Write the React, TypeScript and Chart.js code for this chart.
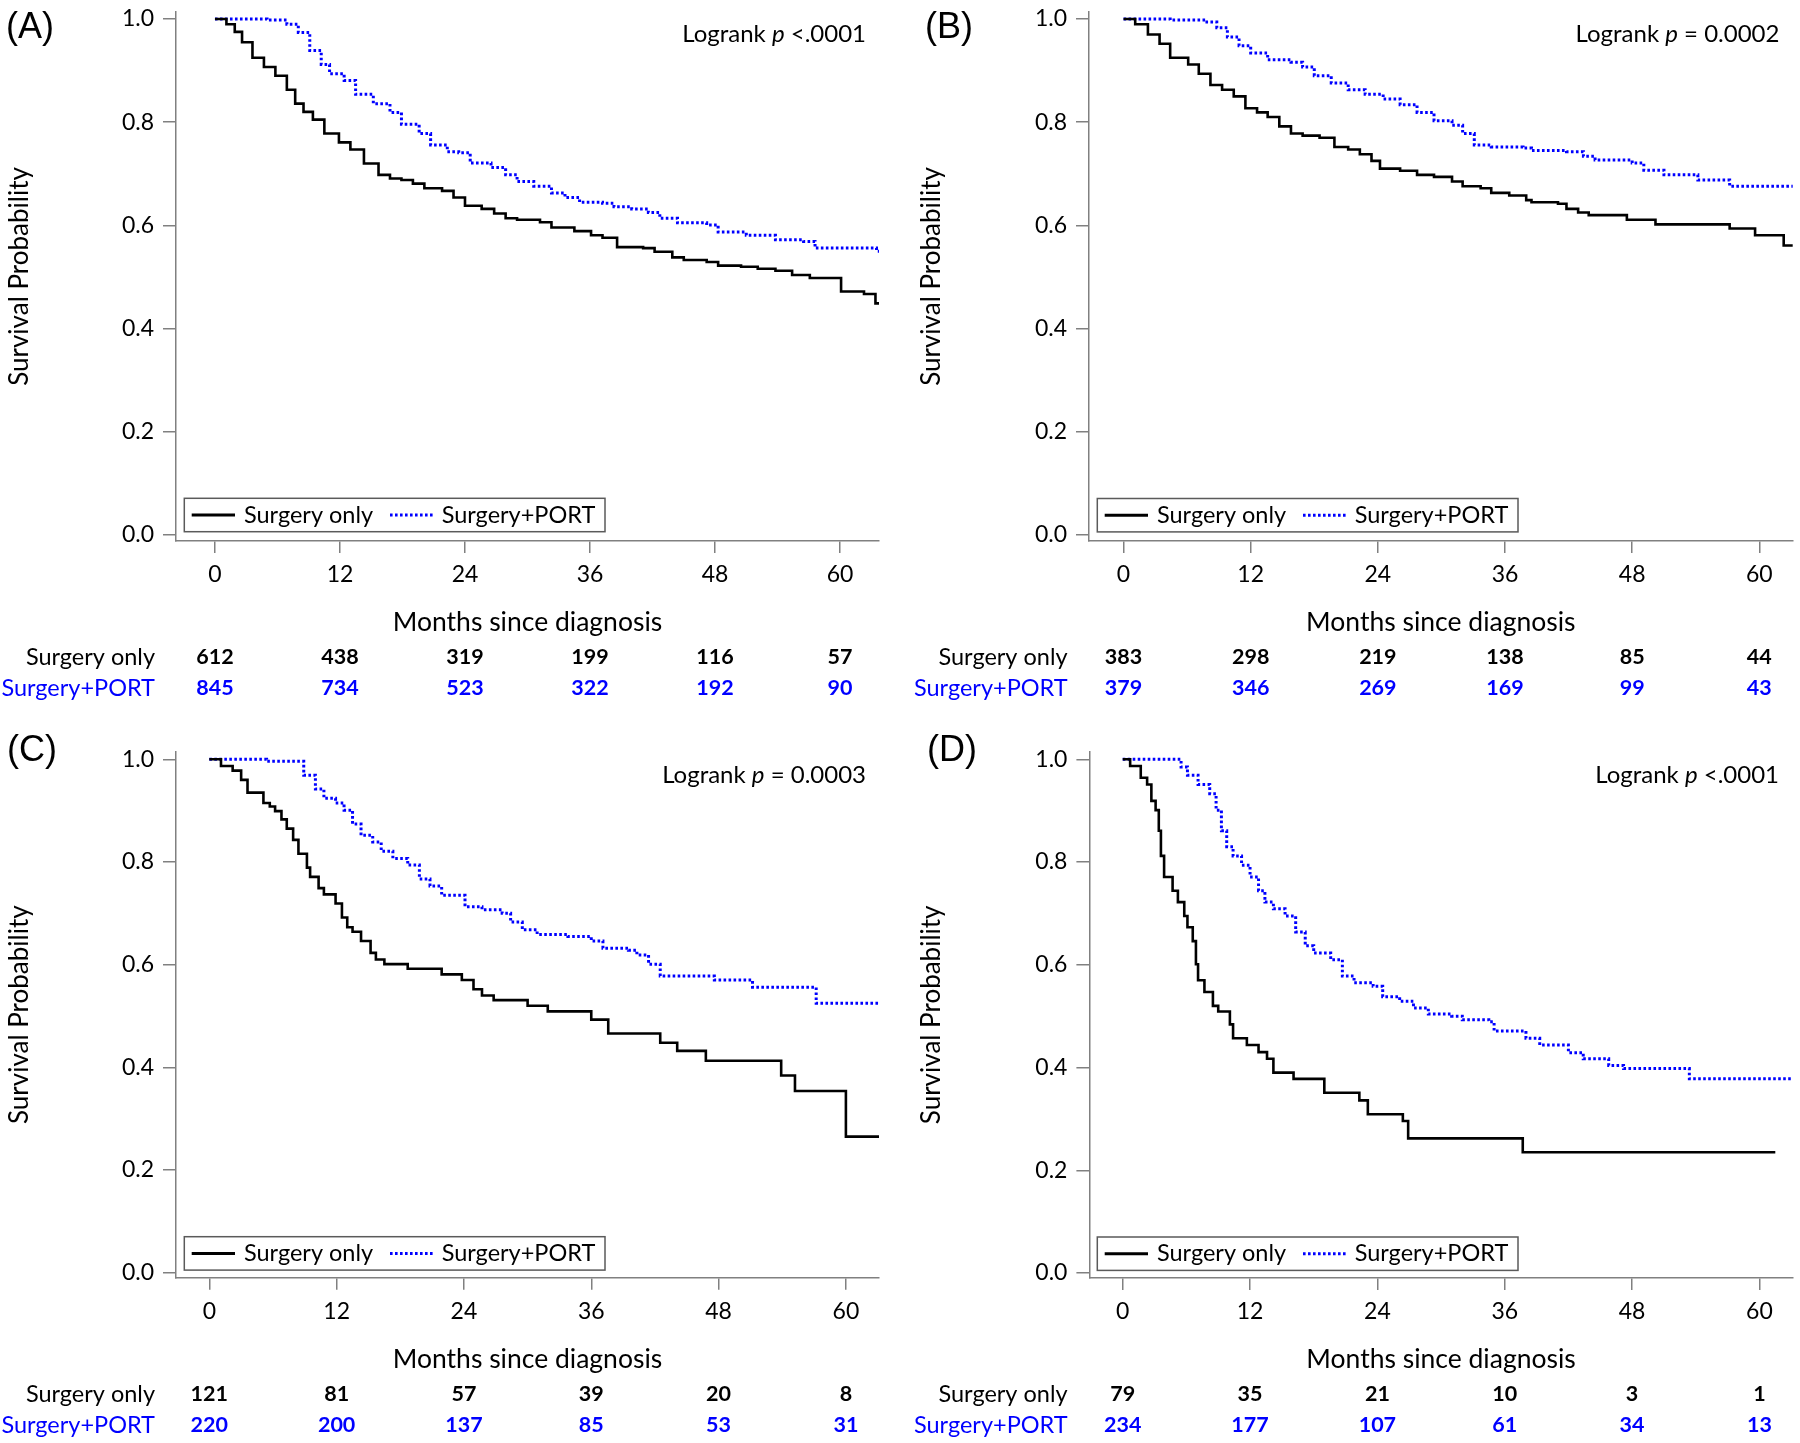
import React, { useEffect, useRef } from 'react';
import { Chart, registerables } from 'chart.js';

Chart.register(...registerables);

// ---------- shared labels ----------
const monthTicks = [0, 12, 24, 36, 48, 60];
const survivalTicks = [0, 0.2, 0.4, 0.6, 0.8, 1.0];
const groupNames = ['Surgery only', 'Surgery+PORT'];
const xTitle = 'Months since diagnosis';
const yTitle = 'Survival Probability';
const panelTags = ['(A)', '(B)', '(C)', '(D)'];
const logrankValues = ['<.0001', '= 0.0002', '= 0.0003', '<.0001'];

// ---------- panel A ----------
const aOnlyMonths = [0, 1.1, 1.9, 2.6, 3.6, 4.7, 5.8, 6.9, 7.7, 8.5, 9.4, 10.5, 11.9, 13, 14.3, 15.7, 16.8, 17.9, 19, 20.1, 21.8, 22.9, 24, 25.6, 26.8, 27.9, 29, 31.2, 32.3, 34.5, 36.1, 37.2, 38.6, 41.1, 42.2, 43.9, 45, 47.2, 48.3, 50.5, 52.1, 53.8, 55.4, 57.1, 60.1, 62.3, 63.4, 64];
const aOnlySurv = [1, 0.99, 0.975, 0.955, 0.925, 0.907, 0.89, 0.863, 0.836, 0.82, 0.805, 0.778, 0.761, 0.747, 0.72, 0.698, 0.691, 0.688, 0.681, 0.672, 0.667, 0.654, 0.638, 0.632, 0.623, 0.614, 0.611, 0.606, 0.596, 0.589, 0.581, 0.576, 0.558, 0.556, 0.549, 0.538, 0.533, 0.529, 0.522, 0.52, 0.516, 0.512, 0.504, 0.498, 0.472, 0.467, 0.449, 0.449];
const aPortMonths = [0, 5, 6.9, 8, 9.1, 10.2, 11, 12.4, 13.5, 15.2, 16.8, 17.9, 19.6, 20.7, 22.3, 23.4, 24.5, 26.5, 27.9, 29, 30.6, 32.3, 33.6, 35, 37.2, 38.3, 40, 41.6, 42.7, 44.4, 47.2, 48.3, 51, 53.8, 56.5, 57.6, 63.5, 64];
const aPortSurv = [1, 0.998, 0.99, 0.974, 0.939, 0.912, 0.894, 0.881, 0.854, 0.836, 0.819, 0.796, 0.778, 0.756, 0.743, 0.741, 0.721, 0.712, 0.698, 0.685, 0.676, 0.663, 0.654, 0.645, 0.643, 0.636, 0.632, 0.625, 0.614, 0.605, 0.601, 0.587, 0.581, 0.572, 0.569, 0.556, 0.55, 0.55];
const aRiskOnly = [612, 438, 319, 199, 116, 57];
const aRiskPort = [845, 734, 523, 322, 192, 90];

// ---------- panel B ----------
const bOnlyMonths = [0, 1.1, 2.3, 3.4, 4.4, 6.1, 7.1, 8.2, 9.3, 10.4, 11.5, 12.6, 13.6, 14.7, 15.8, 16.9, 18.5, 19.9, 21.2, 22.3, 23.4, 24.2, 26.1, 27.7, 29.3, 31, 32, 33.7, 34.7, 36.4, 38, 38.5, 41, 41.8, 42.9, 43.9, 47.5, 50.2, 57.2, 59.6, 62.3, 64];
const bOnlySurv = [1, 0.99, 0.97, 0.952, 0.925, 0.912, 0.894, 0.872, 0.863, 0.85, 0.827, 0.819, 0.81, 0.792, 0.778, 0.774, 0.77, 0.752, 0.747, 0.738, 0.725, 0.71, 0.706, 0.698, 0.694, 0.685, 0.676, 0.672, 0.663, 0.658, 0.649, 0.645, 0.642, 0.632, 0.625, 0.62, 0.611, 0.602, 0.594, 0.581, 0.561, 0.561];
const bPortMonths = [0, 4.4, 7.7, 8.8, 9.8, 10.9, 12, 13.6, 15.8, 16.9, 18, 19.6, 21.2, 22.8, 24.5, 26.1, 27.7, 29.3, 31, 32, 33.1, 34.7, 37.7, 38.5, 41.8, 43.4, 44.5, 48, 49.1, 51, 54.2, 57.2, 64];
const bPortSurv = [1, 0.998, 0.994, 0.983, 0.965, 0.948, 0.934, 0.921, 0.916, 0.907, 0.89, 0.876, 0.863, 0.854, 0.845, 0.834, 0.819, 0.803, 0.794, 0.778, 0.756, 0.752, 0.75, 0.745, 0.743, 0.734, 0.727, 0.721, 0.707, 0.698, 0.688, 0.676, 0.676];
const bRiskOnly = [383, 298, 219, 138, 85, 44];
const bRiskPort = [379, 346, 269, 169, 99, 43];

// ---------- panel C ----------
const cOnlyMonths = [0, 1.1, 2.2, 3, 3.6, 5.1, 5.7, 6.2, 6.8, 7.3, 7.9, 8.4, 9.2, 9.5, 10.3, 10.8, 11.9, 12.5, 13, 13.5, 14.3, 15.2, 15.7, 16.5, 18.7, 21.9, 23.8, 24.9, 25.7, 26.8, 30, 31.9, 36, 37.6, 42.5, 44.1, 46.8, 53.9, 55.2, 60, 64];
const cOnlySurv = [1, 0.987, 0.978, 0.96, 0.935, 0.915, 0.908, 0.899, 0.883, 0.865, 0.843, 0.816, 0.789, 0.771, 0.749, 0.737, 0.719, 0.692, 0.673, 0.664, 0.646, 0.623, 0.61, 0.601, 0.592, 0.581, 0.57, 0.552, 0.54, 0.531, 0.52, 0.509, 0.493, 0.466, 0.448, 0.432, 0.413, 0.384, 0.354, 0.265, 0.265];
const cPortMonths = [0, 5.4, 8.9, 10, 10.8, 11.9, 12.7, 13.5, 14.3, 15.4, 16.2, 17.3, 18.7, 19.8, 20.8, 21.9, 24.1, 25.7, 27.6, 28.4, 29.5, 30.9, 33.8, 36, 37.1, 39.5, 40.3, 41.4, 42.5, 47.6, 51.2, 57.2, 64];
const cPortSurv = [1, 0.996, 0.969, 0.942, 0.924, 0.915, 0.901, 0.874, 0.852, 0.839, 0.821, 0.807, 0.794, 0.767, 0.753, 0.735, 0.713, 0.707, 0.7, 0.683, 0.668, 0.659, 0.655, 0.646, 0.632, 0.628, 0.619, 0.601, 0.578, 0.57, 0.556, 0.525, 0.525];
const cRiskOnly = [121, 81, 57, 39, 20, 8];
const cRiskPort = [220, 200, 137, 85, 53, 31];

// ---------- panel D ----------
const dOnlyMonths = [0, 0.7, 1.7, 2.3, 2.7, 3.1, 3.4, 3.6, 3.9, 4.7, 5.2, 5.8, 6.1, 6.6, 6.9, 7.1, 7.7, 8.5, 9, 10.1, 10.4, 11.7, 12.8, 13.6, 14.2, 16.1, 19, 22.3, 23.1, 26.4, 26.9, 37.7, 61.5];
const dOnlySurv = [1, 0.987, 0.964, 0.951, 0.919, 0.901, 0.861, 0.812, 0.771, 0.744, 0.722, 0.695, 0.673, 0.646, 0.601, 0.57, 0.547, 0.52, 0.509, 0.484, 0.457, 0.444, 0.43, 0.417, 0.39, 0.378, 0.351, 0.336, 0.309, 0.296, 0.262, 0.235, 0.235];
const dPortMonths = [0, 5.5, 6.1, 7.1, 8.2, 8.8, 9.3, 9.8, 10.4, 11.2, 12, 12.8, 13.4, 14.2, 15.3, 16.3, 17.2, 18, 19.6, 20.7, 21.8, 23.6, 24.5, 26.1, 27.4, 28.8, 31, 32, 34.5, 35, 38, 39.3, 42, 43.4, 45.8, 47.2, 53.4, 64];
const dPortSurv = [1, 0.985, 0.969, 0.951, 0.933, 0.901, 0.861, 0.83, 0.812, 0.794, 0.771, 0.744, 0.722, 0.709, 0.695, 0.664, 0.637, 0.623, 0.61, 0.578, 0.565, 0.558, 0.538, 0.529, 0.516, 0.504, 0.5, 0.493, 0.489, 0.471, 0.457, 0.444, 0.429, 0.417, 0.404, 0.398, 0.378, 0.378];
const dRiskOnly = [79, 35, 21, 10, 3, 1];
const dRiskPort = [234, 177, 107, 61, 34, 13];

// ---------- styling / layout (positions, not data) ----------
const FONT = 'Lato, "Open Sans", "Noto Sans", sans-serif';
const TAG_FONT = '"Liberation Sans", Arial, sans-serif';
const BLUE = '#0000ff';
const AXIS = '#808080';
const X_SCALE_H = 100;

type Layout = {
  left: number; top: number; h: number;
  axisX: number; right: number; plotTop: number; plotBottom: number;
  xMin: number; xMax: number; yMin: number; yMax: number;
  yTitleX: number; tagX: number; tagY: number; logRight: number; logY: number;
  legX: number; legY: number; riskRight: number; riskY1: number; riskY2: number;
};

const layouts: Layout[] = [
  { left: 0, top: 0, h: 720, axisX: 176, right: 879, plotTop: 12, plotBottom: 541, xMin: -3.74, xMax: 63.74, yMin: -0.0116, yMax: 1.0136, yTitleX: 19.5, tagX: 6, tagY: 28, logRight: 866, logY: 34.6, legX: 184.3, legY: 498.3, riskRight: 155, riskY1: 657, riskY2: 688 },
  { left: 900, top: 0, h: 720, axisX: 189, right: 892.7, plotTop: 12, plotBottom: 541, xMin: -3.26, xMax: 63.15, yMin: -0.0116, yMax: 1.0136, yTitleX: 32, tagX: 25, tagY: 28, logRight: 879.4, logY: 34.6, legX: 197.3, legY: 498.5, riskRight: 167.6, riskY1: 657, riskY2: 688 },
  { left: 0, top: 720, h: 723, axisX: 176, right: 879, plotTop: 31.7, plotBottom: 557.7, xMin: -3.14, xMax: 63.12, yMin: -0.0097, yMax: 1.0148, yTitleX: 19.5, tagX: 7, tagY: 31.5, logRight: 866, logY: 55, legX: 184.3, legY: 516.7, riskRight: 155, riskY1: 674, riskY2: 705 },
  { left: 900, top: 720, h: 723, axisX: 189.4, right: 892.7, plotTop: 31.7, plotBottom: 558, xMin: -3.14, xMax: 63.14, yMin: -0.0097, yMax: 1.0148, yTitleX: 32, tagX: 27, tagY: 31.5, logRight: 879, logY: 55, legX: 197.3, legY: 517, riskRight: 167.6, riskY1: 674, riskY2: 705 },
];

type PanelData = {
  onlyMonths: number[]; onlySurv: number[]; portMonths: number[]; portSurv: number[];
  riskOnly: number[]; riskPort: number[];
};

const panelData: PanelData[] = [
  { onlyMonths: aOnlyMonths, onlySurv: aOnlySurv, portMonths: aPortMonths, portSurv: aPortSurv, riskOnly: aRiskOnly, riskPort: aRiskPort },
  { onlyMonths: bOnlyMonths, onlySurv: bOnlySurv, portMonths: bPortMonths, portSurv: bPortSurv, riskOnly: bRiskOnly, riskPort: bRiskPort },
  { onlyMonths: cOnlyMonths, onlySurv: cOnlySurv, portMonths: cPortMonths, portSurv: cPortSurv, riskOnly: cRiskOnly, riskPort: cRiskPort },
  { onlyMonths: dOnlyMonths, onlySurv: dOnlySurv, portMonths: dPortMonths, portSurv: dPortSurv, riskOnly: dRiskOnly, riskPort: dRiskPort },
];

const zip = (m: number[], s: number[]) => m.map((x, i) => ({ x, y: s[i] }));

function makeOverlay(idx: number) {
  const L = layouts[idx];
  const D = panelData[idx];
  return {
    id: 'kmOverlay' + idx,
    afterDraw(chart: any) {
      const ctx: CanvasRenderingContext2D = chart.ctx;
      const xs = chart.scales.x;
      ctx.save();
      ctx.textBaseline = 'middle';

      // panel tag
      ctx.fillStyle = '#000';
      ctx.textAlign = 'left';
      ctx.font = `36px ${TAG_FONT}`;
      ctx.fillText(panelTags[idx], L.tagX, L.tagY);

      // logrank annotation
      const regular = `24px ${FONT}`;
      const italic = `italic 24px ${FONT}`;
      const p1 = 'Logrank ';
      const p2 = 'p';
      const p3 = ' ' + logrankValues[idx];
      ctx.font = regular;
      const w1 = ctx.measureText(p1).width;
      const w3 = ctx.measureText(p3).width;
      ctx.font = italic;
      const w2 = ctx.measureText(p2).width;
      let lx = L.logRight - (w1 + w2 + w3);
      ctx.font = regular;
      ctx.fillText(p1, lx, L.logY);
      lx += w1;
      ctx.font = italic;
      ctx.fillText(p2, lx, L.logY);
      lx += w2;
      ctx.font = regular;
      ctx.fillText(p3, lx, L.logY);

      // legend box
      const bw = 420.7;
      const bh = 33.4;
      const cy = L.legY + bh / 2;
      ctx.strokeStyle = '#5a5a5a';
      ctx.lineWidth = 1.5;
      ctx.strokeRect(L.legX, L.legY, bw, bh);
      ctx.strokeStyle = '#000';
      ctx.lineWidth = 3;
      ctx.beginPath();
      ctx.moveTo(L.legX + 7.4, cy);
      ctx.lineTo(L.legX + 50.7, cy);
      ctx.stroke();
      ctx.strokeStyle = BLUE;
      ctx.setLineDash([2.6, 2.4]);
      ctx.beginPath();
      ctx.moveTo(L.legX + 205.7, cy);
      ctx.lineTo(L.legX + 248.4, cy);
      ctx.stroke();
      ctx.setLineDash([]);
      ctx.fillStyle = '#000';
      ctx.font = `23.5px ${FONT}`;
      ctx.fillText(groupNames[0], L.legX + 59.7, cy);
      ctx.fillText(groupNames[1], L.legX + 257.4, cy);

      // numbers at risk
      ctx.textAlign = 'right';
      ctx.font = `23.5px ${FONT}`;
      ctx.fillStyle = '#000';
      ctx.fillText(groupNames[0], L.riskRight, L.riskY1);
      ctx.fillStyle = BLUE;
      ctx.fillText(groupNames[1], L.riskRight, L.riskY2);
      ctx.textAlign = 'center';
      ctx.font = `bold 21.5px ${FONT}`;
      monthTicks.forEach((m, i) => {
        const px = xs.getPixelForValue(m);
        ctx.fillStyle = '#000';
        ctx.fillText(String(D.riskOnly[i]), px, L.riskY1);
        ctx.fillStyle = BLUE;
        ctx.fillText(String(D.riskPort[i]), px, L.riskY2);
      });
      ctx.restore();
    },
  };
}

function KMPanel({ idx }: { idx: number }) {
  const ref = useRef<HTMLCanvasElement>(null);
  const L = layouts[idx];
  const D = panelData[idx];

  useEffect(() => {
    if (!ref.current) return;
    const chart = new Chart(ref.current, {
      type: 'line',
      data: {
        datasets: [
          {
            label: groupNames[0],
            data: zip(D.onlyMonths, D.onlySurv),
            borderColor: '#000',
            borderWidth: 2.6,
            stepped: 'before',
            pointRadius: 0,
            pointHoverRadius: 0,
            fill: false,
            clip: 0,
          },
          {
            label: groupNames[1],
            data: zip(D.portMonths, D.portSurv),
            borderColor: BLUE,
            borderWidth: 3,
            borderDash: [2.6, 2.4],
            stepped: 'before',
            pointRadius: 0,
            pointHoverRadius: 0,
            fill: false,
            clip: 0,
          },
        ],
      },
      options: {
        responsive: false,
        animation: false,
        devicePixelRatio: 1,
        events: [],
        layout: {
          padding: {
            left: 0,
            top: L.plotTop,
            right: 900 - L.right,
            bottom: L.h - L.plotBottom - X_SCALE_H,
          },
        },
        plugins: {
          legend: { display: false },
          tooltip: { enabled: false },
        },
        scales: {
          x: {
            type: 'linear',
            min: L.xMin,
            max: L.xMax,
            afterBuildTicks: (s: any) => {
              s.ticks = monthTicks.map((v) => ({ value: v }));
            },
            afterFit: (s: any) => {
              s.height = X_SCALE_H;
              s.paddingLeft = 0;
              s.paddingRight = 0;
              s.paddingTop = 0;
              s.paddingBottom = 0;
            },
            grid: { drawOnChartArea: false, drawTicks: true, tickLength: 12, color: AXIS, lineWidth: 1.5 },
            border: { display: true, color: AXIS, width: 1.5 },
            ticks: {
              color: '#000',
              font: { family: FONT, size: 23 },
              padding: 8,
              maxRotation: 0,
              minRotation: 0,
              autoSkip: false,
              callback: (v: any) => String(v),
            },
            title: {
              display: true,
              text: xTitle,
              color: '#000',
              font: { family: FONT, size: 26.5 },
              padding: { top: 0, bottom: 2.7 },
            },
          },
          y: {
            type: 'linear',
            min: L.yMin,
            max: L.yMax,
            afterBuildTicks: (s: any) => {
              s.ticks = survivalTicks.map((v) => ({ value: v }));
            },
            afterFit: (s: any) => {
              s.width = L.axisX;
              s.paddingTop = 0;
              s.paddingBottom = 0;
              s.paddingLeft = 0;
              s.paddingRight = 0;
            },
            grid: { drawOnChartArea: false, drawTicks: true, tickLength: 13, color: AXIS, lineWidth: 1.5 },
            border: { display: true, color: AXIS, width: 1.5 },
            ticks: {
              color: '#000',
              font: { family: FONT, size: 23 },
              padding: 9,
              autoSkip: false,
              callback: (v: any) => Number(v).toFixed(1),
            },
            title: {
              display: true,
              text: yTitle,
              color: '#000',
              font: { family: FONT, size: 26 },
              padding: { top: L.yTitleX - 15.6, bottom: 0 },
            },
          },
        },
      },
      plugins: [makeOverlay(idx)],
    } as any);
    return () => chart.destroy();
  }, [idx]);

  return (
    <canvas
      ref={ref}
      width={900}
      height={L.h}
      style={{ position: 'absolute', left: L.left, top: L.top, width: 900, height: L.h, display: 'block' }}
    />
  );
}

export default function App() {
  return (
    <div style={{ position: 'absolute', left: 0, top: 0, width: 1800, height: 1443, background: '#fff', overflow: 'hidden' }}>
      {layouts.map((_, i) => (
        <KMPanel key={i} idx={i} />
      ))}
    </div>
  );
}
